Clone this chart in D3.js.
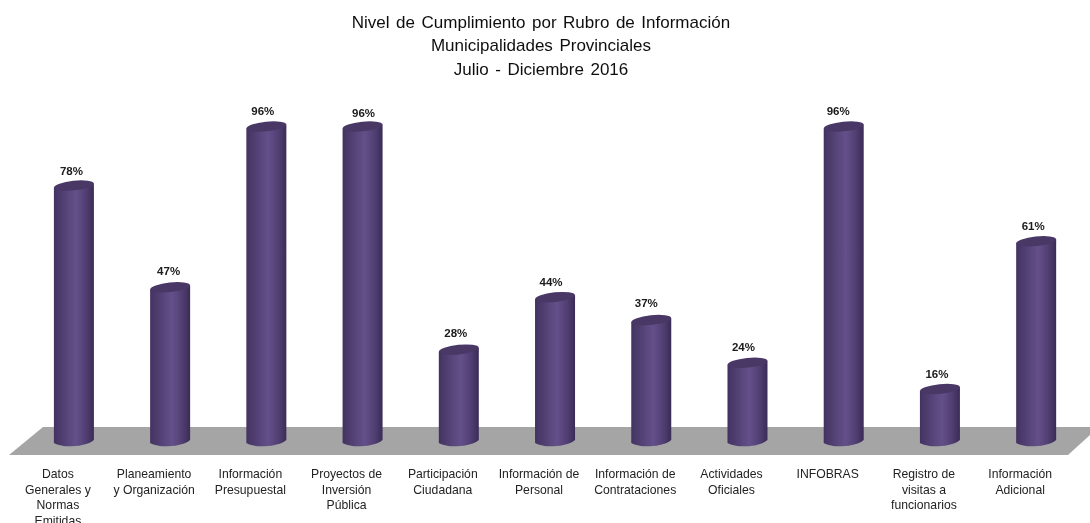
<!DOCTYPE html>
<html>
<head>
<meta charset="utf-8">
<script src="https://cdn.jsdelivr.net/npm/d3@7"></script>
<style>
html, body { margin: 0; padding: 0; background: #fff; }
svg { display: block; }
text { font-family: "Liberation Sans", Arial, sans-serif; }
</style>
</head>
<body>
<div id="chart"></div>
<script>
var titleLines = ["Nivel de Cumplimiento por Rubro de Información", "Municipalidades Provinciales", "Julio - Diciembre 2016"];
var categories = [
	["Datos", "Generales y", "Normas", "Emitidas"],
	["Planeamiento", "y Organización"],
	["Información", "Presupuestal"],
	["Proyectos de", "Inversión", "Pública"],
	["Participación", "Ciudadana"],
	["Información de", "Personal"],
	["Información de", "Contrataciones"],
	["Actividades", "Oficiales"],
	["INFOBRAS"],
	["Registro de", "visitas a", "funcionarios"],
	["Información", "Adicional"]
];
var values = [78, 47, 96, 96, 28, 44, 37, 24, 96, 16, 61];

var width = 1090, height = 523;
var barWidth = 40, ry = 4.8, tilt = -6;
var baseY = 441.5;

var svg = d3.select("#chart").append("svg").attr("width", width).attr("height", height);

var x = d3.scaleBand().domain(d3.range(values.length)).range([26, 1084]).paddingInner(0.585).paddingOuter(0.29);
var y = d3.scaleLinear().domain([0, 96]).range([baseY, 126.5]);

var defs = svg.append("defs");
var grad = defs.append("linearGradient").attr("id", "barFill");
[[0, "#423260"], [0.15, "#4c3b6c"], [0.55, "#65508a"], [0.82, "#4f3d70"], [1, "#3a2b57"]].forEach(function(s) {
	grad.append("stop").attr("offset", s[0]).attr("stop-color", s[1]);
});
defs.append("filter").attr("id", "soft").append("feGaussianBlur").attr("stdDeviation", 0.45);
defs.append("filter").attr("id", "softText").append("feGaussianBlur").attr("stdDeviation", 0.3);

// floor
svg.append("path")
	.attr("d", "M9,455 L43,427 L1090,427 L1090,435 L1068,455 Z")
	.attr("fill", "#a5a5a5");

// title
svg.append("g").attr("filter", "url(#softText)")
	.selectAll("text").data(titleLines).enter().append("text")
	.attr("x", 541)
	.attr("y", (d, i) => 27.5 + i * 23.8)
	.attr("text-anchor", "middle")
	.attr("font-size", 17)
	.attr("word-spacing", 1.8)
	.attr("fill", "#111")
	.text(d => d);

// bars
var bar = svg.append("g").selectAll("g").data(values).enter().append("g")
	.attr("transform", (d, i) => `translate(${x(i)}, 0)`)
	.attr("filter", "url(#soft)");

bar.append("path")
	.attr("d", d => {
		var top = y(d);
		var w = barWidth;
		return `M0,${top + 2} L0,${baseY + 1.5} C4,${baseY + 4} 12,${baseY + 5} 18,${baseY + 4.8} C28,${baseY + 4.4} 36,${baseY + 2} ${w},${baseY - 1.5} L${w},${top - 2} Z`;
	})
	.attr("fill", "url(#barFill)");

bar.append("ellipse")
	.attr("cx", barWidth / 2)
	.attr("cy", d => y(d))
	.attr("rx", barWidth / 2)
	.attr("ry", ry)
	.attr("transform", d => `rotate(${tilt} ${barWidth / 2} ${y(d)})`)
	.attr("fill", "#483766");

// value labels, these sit a bit off centre in the original
var labelDx = [-2.5, -1.5, -3.5, 1, -3, -4, -5, -4, -5.5, -3, -3];
var labelDy = [0, -1, -1, 1.5, -2, 0, -2, -1, -1, 0, 0];

svg.append("g").attr("filter", "url(#softText)")
	.selectAll("text").data(values).enter().append("text")
	.attr("x", (d, i) => x(i) + barWidth / 2 + labelDx[i])
	.attr("y", (d, i) => y(d) - 11 + labelDy[i])
	.attr("text-anchor", "middle")
	.attr("font-size", 11.5)
	.attr("font-weight", "bold")
	.attr("fill", "#1a1a1a")
	.text(d => d + "%");

// category labels
var cat = svg.append("g").attr("filter", "url(#softText)")
	.selectAll("text").data(categories).enter().append("text")
	.attr("text-anchor", "middle")
	.attr("font-size", 12.2)
	.attr("fill", "#222");

cat.selectAll("tspan").data((d, i) => d.map(l => ({ line: l, col: i }))).enter().append("tspan")
	.attr("x", d => x(d.col) + barWidth / 2 - 16)
	.attr("y", (d, i) => 478 + i * 15.5)
	.text(d => d.line);
</script>
</body>
</html>
